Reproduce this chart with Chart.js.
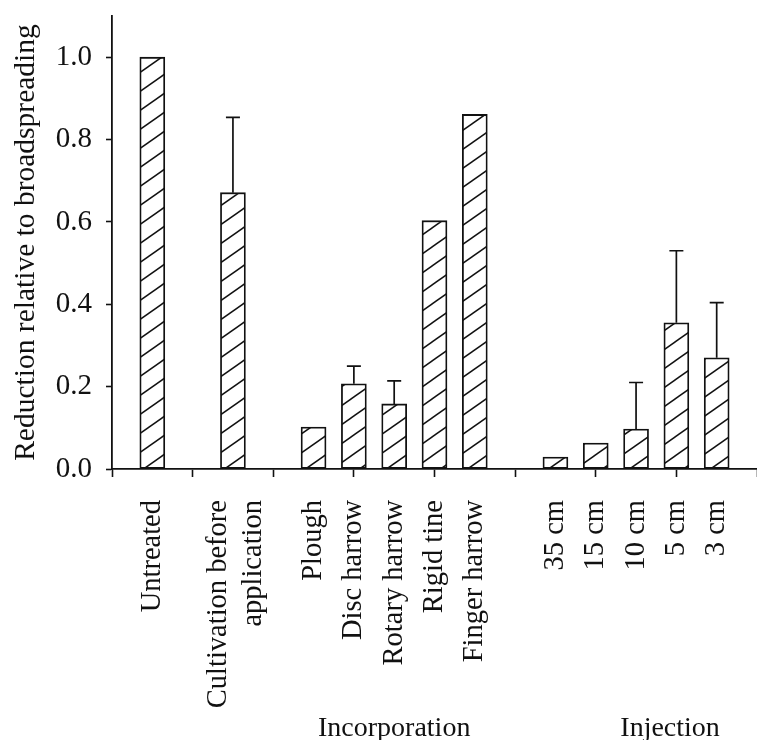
<!DOCTYPE html>
<html><head><meta charset="utf-8">
<script src="https://cdn.jsdelivr.net/npm/chart.js@4"></script>
<style>html,body{margin:0;padding:0;background:#fff}</style>
</head><body>
<canvas id="c" width="757" height="740"></canvas>
<script>
// ---- data ----
const categories = ['', 'Untreated', '', ['Cultivation before', 'application'], '', 'Plough', 'Disc harrow', 'Rotary harrow', 'Rigid tine', 'Finger harrow', '', '35 cm', '15 cm', '10 cm', '5 cm', '3 cm', ''];
const reduction  = [null, 1.0, null, 0.671, null, 0.102, 0.207, 0.158, 0.603, 0.861, null, 0.029, 0.063, 0.097, 0.355, 0.27, null];
const errorUpper = [null, null, null, 0.854, null, null, 0.25, 0.214, null, null, null, null, null, 0.21, 0.53, 0.404, null];
const yTicks = [0, 0.2, 0.4, 0.6, 0.8, 1.0];
const groupNames = ['Incorporation', 'Injection'];
const groupFrom = ['Plough', '35 cm'];
const groupTo = ['Finger harrow', '3 cm'];

const INK = '#111111';
const FONT = '"Liberation Serif", "Times New Roman", serif';

function hatchPattern() {
  const w = 27, h = 19;
  const c = document.createElement('canvas');
  c.width = w; c.height = h;
  const g = c.getContext('2d');
  g.fillStyle = '#fff'; g.fillRect(0, 0, w, h);
  g.strokeStyle = INK; g.lineWidth = 1.5;
  for (const dx of [-w, 0, w]) {
    g.beginPath();
    g.moveTo(-w + dx, 2 * h);
    g.lineTo(2 * w + dx, -h);
    g.stroke();
  }
  return g.createPattern(c, 'repeat');
}

function catIndex(name) {
  return categories.findIndex(c => (Array.isArray(c) ? c.join(' ') : c) === name);
}

const errorBars = {
  id: 'errorBars',
  afterDatasetsDraw(chart) {
    const meta = chart.getDatasetMeta(0);
    const y = chart.scales.y;
    const ctx = chart.ctx;
    ctx.save();
    ctx.strokeStyle = INK; ctx.lineWidth = 1.7;
    meta.data.forEach((bar, i) => {
      const up = errorUpper[i];
      if (up == null || reduction[i] == null) return;
      const top = y.getPixelForValue(up);
      ctx.beginPath();
      ctx.moveTo(bar.x, bar.y);
      ctx.lineTo(bar.x, top);
      ctx.moveTo(bar.x - 7, top);
      ctx.lineTo(bar.x + 7, top);
      ctx.stroke();
    });
    ctx.restore();
  }
};

const multiLineShift = {
  id: 'multiLineShift',
  beforeDraw(chart) {
    const xs = chart.scales.x;
    const items = xs.getLabelItems(chart.chartArea);
    items.forEach(it => {
      if (Array.isArray(it.label) && !it._shifted) {
        it.options.translation[0] -= it.font.lineHeight * (it.label.length - 1) / 2 - 3;
        it._shifted = true;
      }
    });
  }
};

const groupLabels = {
  id: 'groupLabels',
  afterDraw(chart) {
    const xs = chart.scales.x;
    const ctx = chart.ctx;
    const dx = [0, 34];
    ctx.save();
    ctx.fillStyle = INK;
    ctx.font = '28px ' + FONT;
    ctx.textAlign = 'center';
    ctx.textBaseline = 'alphabetic';
    groupNames.forEach((name, i) => {
      const a = xs.getPixelForValue(catIndex(groupFrom[i]));
      const b = xs.getPixelForValue(catIndex(groupTo[i]));
      ctx.fillText(name, (a + b) / 2 + dx[i], 736);
    });
    ctx.restore();
  }
};

new Chart(document.getElementById('c'), {
  type: 'bar',
  data: {
    labels: categories,
    datasets: [{
      data: reduction,
      backgroundColor: hatchPattern(),
      borderColor: INK,
      borderWidth: 1.8,
      borderSkipped: false,
      barThickness: 25
    }]
  },
  options: {
    responsive: false,
    animation: false,
    devicePixelRatio: 1,
    layout: { padding: { top: 16, right: -3, left: 0, bottom: 0 } },
    plugins: { legend: { display: false }, tooltip: { enabled: false } },
    scales: {
      x: {
        offset: false,
        grid: {
          offset: false,
          drawOnChartArea: false,
          drawTicks: true,
          tickLength: 8,
          tickWidth: 1.6,
          tickColor: ctx => (ctx.index % 2 === 0 ? INK : 'rgba(0,0,0,0)')
        },
        border: { color: INK, width: 1.8 },
        ticks: {
          autoSkip: false,
          maxRotation: 90,
          minRotation: 90,
          padding: 23,
          color: INK,
          font: { family: FONT, size: 28.5, lineHeight: 1.2 }
        },
        afterFit(s) { s.height = 271; s.paddingLeft = 0; s.paddingRight = 0; }
      },
      y: {
        min: 0,
        max: 1.1,
        afterBuildTicks(s) { s.ticks = yTicks.map(v => ({ value: v })); },
        grid: {
          drawOnChartArea: false,
          drawTicks: true,
          tickLength: 6,
          tickWidth: 1.6,
          tickColor: INK
        },
        border: { color: INK, width: 1.8 },
        ticks: {
          padding: 14,
          color: INK,
          font: { family: FONT, size: 29 },
          callback: v => Number(v).toFixed(1)
        },
        title: {
          display: true,
          text: 'Reduction relative to broadspreading',
          color: INK,
          font: { family: FONT, size: 29.5, lineHeight: 1.2 },
          padding: { top: 9, bottom: 0 }
        },
        afterFit(s) { s.width = 112; s.paddingTop = 0; s.paddingBottom = 0; }
      }
    }
  },
  plugins: [errorBars, multiLineShift, groupLabels]
});
</script>
</body></html>
